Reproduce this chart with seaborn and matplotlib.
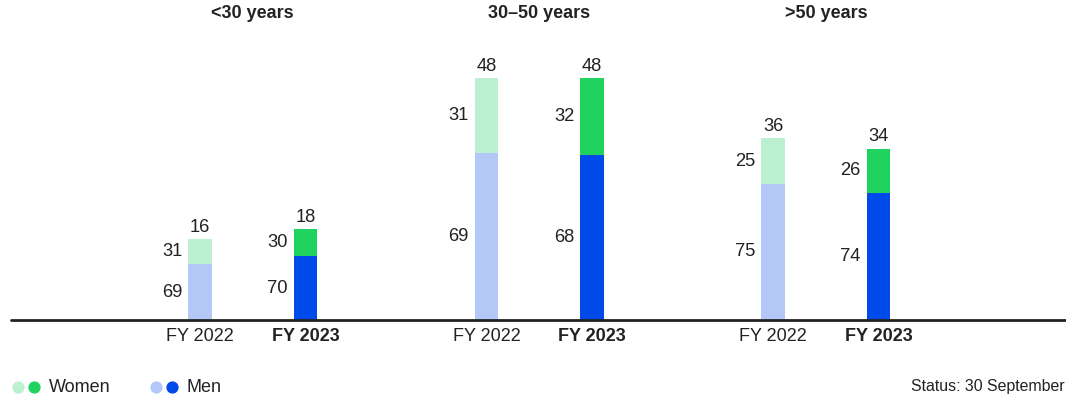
import matplotlib
matplotlib.use('Agg')
import matplotlib.pyplot as plt
import seaborn as sns
import pandas as pd
from matplotlib.lines import Line2D

# ---- data ----
groups = ['<30 years', '30\u201350 years', '>50 years']
years = ['FY 2022', 'FY 2023']
total_fy22 = [16, 48, 36]
total_fy23 = [18, 48, 34]
women_fy22 = [31, 31, 25]
women_fy23 = [30, 32, 26]
men_fy22 = [69, 69, 75]
men_fy23 = [70, 68, 74]
legend_labels = ['Women', 'Men']
status_text = 'Status: 30 September'

# ---- style ----
C_W22, C_W23 = '#bbf0d1', '#1fd35e'
C_M22, C_M23 = '#b3c8f7', '#004ae9'
TXT = '#222222'
GROUP_STEP = 2.716
UNIT_PX = 105.5

totals = [total_fy22, total_fy23]
women = [women_fy22, women_fy23]
men = [men_fy22, men_fy23]

rows = []
for g, grp in enumerate(groups):
    for y, yr in enumerate(years):
        rows.append(dict(group=grp, year=yr, pos=g * GROUP_STEP + y,
                         total=totals[y][g], women=women[y][g], men=men[y][g],
                         men_h=totals[y][g] * men[y][g] / 100.0))
df = pd.DataFrame(rows)

sns.set_theme(style='white')
plt.rcParams['font.family'] = ['Liberation Sans', 'DejaVu Sans']
plt.rcParams['text.color'] = TXT

fig = plt.figure(figsize=(10.66, 3.96), dpi=100)
ax = fig.add_axes([0, 76 / 396, 1, 320 / 396])

sns.barplot(data=df, x='pos', y='total', hue='year',
            palette={'FY 2022': C_W22, 'FY 2023': C_W23},
            native_scale=True, width=0.22, dodge=False, legend=False,
            errorbar=None, saturation=1, linewidth=0, ax=ax)
sns.barplot(data=df, x='pos', y='men_h', hue='year',
            palette={'FY 2022': C_M22, 'FY 2023': C_M23},
            native_scale=True, width=0.22, dodge=False, legend=False,
            errorbar=None, saturation=1, linewidth=0, ax=ax)

x0 = -200 / UNIT_PX
x1 = x0 + 1066 / UNIT_PX
ax.set_xlim(x0, x1)
ymax = 320 / (242 / 48)
ax.set_ylim(0, ymax)
for s in ax.spines.values():
    s.set_visible(False)
ax.set_yticks([])
ax.set_ylabel('')
ax.set_xlabel('')

# baseline
ax.axhline(0, xmin=11 / 1066, xmax=1, color=TXT, lw=2, clip_on=False, zorder=5)

# ticks
ax.set_xticks(df['pos'].tolist())
ax.set_xticklabels(df['year'].tolist(), fontsize=13, color=TXT)
for lbl in ax.get_xticklabels():
    if '2023' in lbl.get_text():
        lbl.set_fontweight('bold')
ax.tick_params(axis='x', length=0, pad=5.5)

half_w = 0.11
for _, r in df.iterrows():
    ax.annotate(f"{r['total']}", (r['pos'], r['total']), xytext=(0, 2.5),
                textcoords='offset points', ha='center', va='bottom',
                fontsize=13.2, color=TXT)
    ax.annotate(f"{r['women']}", (r['pos'] - half_w, (r['men_h'] + r['total']) / 2),
                xytext=(-4.5, 0), textcoords='offset points', ha='right', va='center',
                fontsize=13.2, color=TXT)
    ax.annotate(f"{r['men']}", (r['pos'] - half_w, r['men_h'] / 2),
                xytext=(-4.5, 0), textcoords='offset points', ha='right', va='center',
                fontsize=13.2, color=TXT)

# group titles
title_y = (320 - 14) / (242 / 48)
for g, grp in enumerate(groups):
    ax.text(g * GROUP_STEP + 0.5, title_y, grp, ha='center', va='center',
            fontsize=13, fontweight='bold', color=TXT)

# legend
ly = 1 - 387 / 396
for xp, c in [(17.5, C_W22), (33.5, C_W23), (155.5, C_M22), (171.5, C_M23)]:
    fig.add_artist(Line2D([xp / 1066], [ly], marker='o', ms=7.8, color=c,
                          linestyle='none', transform=fig.transFigure))
fig.text(49 / 1066, ly, legend_labels[0], ha='left', va='center', fontsize=13, color=TXT)
fig.text(187 / 1066, ly, legend_labels[1], ha='left', va='center', fontsize=13, color=TXT)
fig.text(1065 / 1066, ly, status_text, ha='right', va='center', fontsize=11.4, color=TXT)

fig.savefig('out.png', dpi=100)
